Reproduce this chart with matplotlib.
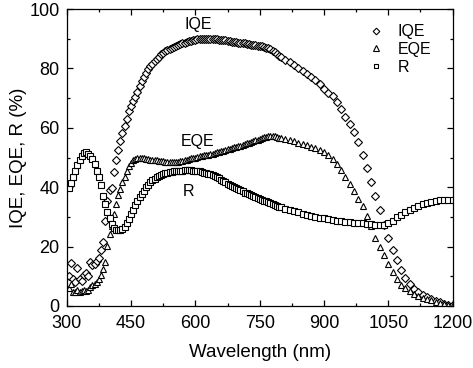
import numpy as np
import matplotlib
matplotlib.use("Agg")
import matplotlib.pyplot as plt
from matplotlib.ticker import MultipleLocator

plt.rcParams['font.family'] = ['Liberation Sans', 'DejaVu Sans']

wavelength = np.concatenate([np.arange(305, 801, 5), np.arange(810, 1201, 10)])

iqe = [10.0, 14.6, 9.0, 8.2, 12.9, 9.1, 8.5, 10.5, 11.0, 10.2,
       14.7, 13.8, 14.3, 15.2, 16.2, 18.8, 21.4, 28.7, 35.5, 39.0,
       39.6, 45.0, 49.2, 52.6, 55.5, 58.1, 60.6, 63.0, 65.5, 67.2,
       68.9, 70.4, 72.2, 74.0, 75.8, 77.2, 78.6, 79.7, 80.8, 81.6,
       82.5, 83.3, 84.0, 84.7, 85.2, 85.7, 86.1, 86.5, 86.9, 87.2,
       87.6, 87.9, 88.2, 88.5, 88.7, 88.9, 89.1, 89.3, 89.5, 89.6,
       89.8, 89.9, 89.9, 90.0, 90.0, 90.0, 89.9, 89.9, 89.8, 89.8,
       89.7, 89.6, 89.5, 89.4, 89.3, 89.2, 89.0, 88.9, 88.8, 88.7,
       88.6, 88.5, 88.4, 88.2, 88.1, 88.0, 87.9, 87.8, 87.7, 87.5,
       87.4, 87.2, 87.0, 86.8, 86.5, 86.0, 85.4, 84.9, 84.3, 83.8,
       83.0, 82.2, 81.2, 80.2, 79.2, 78.2, 77.2, 76.2, 74.6, 73.0,
       71.8, 70.8, 68.7, 66.2, 63.7, 61.3, 58.7, 55.2, 50.8, 46.4,
       41.6, 37.0, 32.3, 27.4, 23.0, 19.0, 15.4, 12.2, 9.4, 7.3,
       5.8, 4.7, 3.8, 3.0, 2.3, 1.7, 1.2, 0.8, 0.5, 0.2]

eqe = [6.0, 7.5, 4.6, 4.7, 5.5, 4.8, 4.9, 5.3, 5.1, 5.4,
       6.5, 7.0, 7.4, 8.0, 9.0, 10.5, 12.5, 14.7, 20.3, 24.2,
       27.0, 31.0, 34.5, 37.5, 39.5, 41.8, 43.6, 45.5, 47.3, 48.3,
       49.0, 49.5, 49.7, 49.8, 49.8, 49.7, 49.6, 49.5, 49.3, 49.2,
       49.1, 49.0, 48.9, 48.8, 48.7, 48.6, 48.6, 48.5, 48.5, 48.5,
       48.5, 48.6, 48.7, 48.9, 49.1, 49.3, 49.5, 49.7, 49.8, 50.0,
       50.2, 50.4, 50.5, 50.7, 50.8, 51.0, 51.1, 51.3, 51.5, 51.7,
       51.9, 52.1, 52.3, 52.5, 52.7, 52.9, 53.1, 53.4, 53.6, 53.8,
       54.0, 54.3, 54.5, 54.8, 55.0, 55.3, 55.5, 55.8, 56.0, 56.3,
       56.5, 56.8, 57.0, 57.2, 57.3, 57.4, 57.1, 56.9, 56.7, 56.6,
       56.3, 55.9, 55.5, 55.0, 54.6, 54.1, 53.7, 53.2, 52.5, 51.8,
       50.8, 49.5, 47.8, 45.8, 43.6, 41.1, 38.6, 36.0, 33.6, 30.3,
       26.8, 22.9, 19.9, 17.1, 14.1, 11.4, 9.1, 7.2, 5.9, 4.9,
       4.1, 3.4, 2.8, 2.3, 1.9, 1.5, 1.1, 0.8, 0.5, 0.3]

refl = [39.8, 41.5, 43.5, 45.5, 47.5, 49.3, 50.6, 51.4, 51.7, 51.3,
        50.6, 49.4, 47.9, 45.6, 43.3, 40.8, 37.0, 34.2, 31.8, 29.5,
        27.6, 26.3, 25.7, 25.5, 25.6, 26.0, 26.7, 27.8, 29.3, 31.0,
        32.4, 33.9, 35.3, 36.6, 37.7, 38.8, 39.9, 40.8, 41.6, 42.3,
        42.9, 43.4, 43.8, 44.1, 44.4, 44.7, 44.9, 45.1, 45.2, 45.3,
        45.4, 45.5, 45.6, 45.6, 45.7, 45.7, 45.7, 45.7, 45.6, 45.6,
        45.5, 45.3, 45.1, 44.9, 44.7, 44.5, 44.3, 44.0, 43.7, 43.4,
        43.0, 42.5, 42.1, 41.6, 41.2, 40.8, 40.4, 40.0, 39.6, 39.3,
        38.9, 38.6, 38.2, 37.9, 37.6, 37.3, 37.0, 36.7, 36.4, 36.1,
        35.8, 35.5, 35.2, 34.9, 34.6, 34.3, 34.0, 33.7, 33.4, 33.2,
        32.7, 32.3, 31.9, 31.5, 31.0, 30.6, 30.3, 30.0, 29.7, 29.5,
        29.2, 28.9, 28.7, 28.5, 28.4, 28.3, 28.1, 28.0, 27.8, 27.6,
        27.5, 27.4, 27.3, 27.4, 27.8, 28.7, 29.8, 30.7, 31.5, 32.2,
        32.9, 33.6, 34.2, 34.7, 35.1, 35.4, 35.6, 35.7, 35.8, 35.8]

series_labels = ["IQE", "EQE", "R"]
x_ticks = [300, 450, 600, 750, 900, 1050, 1200]
y_ticks = [0, 20, 40, 60, 80, 100]

fig = plt.figure(figsize=(4.73, 3.68), dpi=100)
ax = fig.add_axes([0.141, 0.1685, 0.816, 0.807])

mk = dict(linestyle='none', markerfacecolor='white', markeredgecolor='black',
          markeredgewidth=0.8)
ax.plot(wavelength, iqe, marker='D', markersize=4.2, label=series_labels[0], **mk)
ax.plot(wavelength, eqe, marker='^', markersize=4.6, label=series_labels[1], **mk)
ax.plot(wavelength, refl, marker='s', markersize=3.7, label=series_labels[2], **mk)

ax.set_xlim(300, 1200)
ax.set_ylim(0, 100)
ax.set_xticks(x_ticks)
ax.set_yticks(y_ticks)
ax.xaxis.set_minor_locator(MultipleLocator(75))
ax.yaxis.set_minor_locator(MultipleLocator(10))
ax.tick_params(which='both', direction='in', top=True, right=True, width=0.9)
ax.tick_params(which='major', length=4, labelsize=13)
ax.tick_params(axis='x', which='major', pad=6.5)
ax.tick_params(axis='y', which='major', pad=5)
ax.tick_params(which='minor', length=2.5)
for s in ax.spines.values():
    s.set_linewidth(0.9)

ax.set_xlabel("Wavelength (nm)", fontsize=13.5, labelpad=8.5)
ax.set_ylabel("IQE, EQE, R (%)", fontsize=13.5, labelpad=2)

ax.text(606, 94.8, "IQE", fontsize=11.5, ha='center', va='center')
ax.text(604, 55.5, "EQE", fontsize=11.5, ha='center', va='center')
ax.text(583, 38.5, "R", fontsize=11.5, ha='center', va='center')

leg = ax.legend(loc='upper right', bbox_to_anchor=(0.962, 0.970), frameon=False,
                fontsize=11.5, handlelength=1.0, handletextpad=0.9,
                labelspacing=0.17, borderaxespad=0.0, markerscale=0.8)

fig.savefig("out.png", dpi=100)
